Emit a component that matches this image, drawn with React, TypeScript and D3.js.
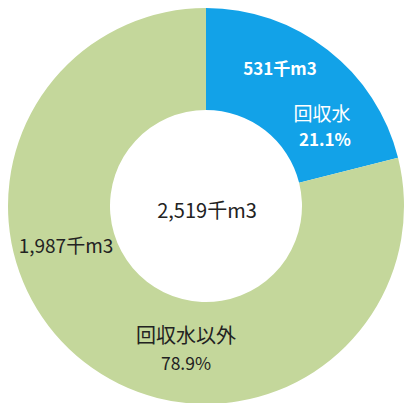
import { useEffect, useRef } from "react"
import * as d3 from "d3"

const categories = ["回収水", "回収水以外"]
const values = [531, 1987]
const volumeLabels = ["531千m3", "1,987千m3"]
const percentLabels = ["21.1%", "78.9%"]
const totalLabel = "2,519千m3"
const colors = ["#12a2e8", "#c4d79b"]

export default function App() {
  const svgRef = useRef<SVGSVGElement>(null)

  useEffect(() => {
    if (!svgRef.current) return
    const width = 404
    const height = 403
    const cx = 206
    const cy = 206
    const outerR = 198
    const innerR = 96
    const font = "'Noto Sans CJK JP', 'Noto Sans', sans-serif"

    const svg = d3.select(svgRef.current)
    svg.selectAll("*").remove()
    svg.attr("width", width).attr("height", height)

    const g = svg.append("g").attr("transform", `translate(${cx},${cy})`)

    const pie = d3.pie<number>().sort(null).value((d) => d)
    const arc = d3.arc<d3.PieArcDatum<number>>().innerRadius(innerR).outerRadius(outerR)
    const arcs = pie(values)

    g.selectAll("path")
      .data(arcs)
      .enter()
      .append("path")
      .attr("d", arc)
      .attr("fill", (_, i) => colors[i])

    const label = (x: number, y: number, text: string, size: number, fill: string, bold = false) =>
      g.append("text")
        .attr("x", x)
        .attr("y", y)
        .attr("text-anchor", "middle")
        .attr("font-family", font)
        .attr("font-weight", bold ? "bold" : "normal")
        .attr("font-size", size)
        .attr("fill", fill)
        .text(text)

    // blue slice labels
    label(74, -131, volumeLabels[0], 17, "#fff", true)
    label(116, -85, categories[0], 19, "#fff")
    label(119, -60, percentLabels[0], 17, "#fff", true)

    // green slice labels
    label(-140, 47, volumeLabels[1], 19, "#222")
    label(-20, 137, categories[1], 20, "#222")
    label(-20, 164, percentLabels[1], 17.5, "#222")

    // total in centre
    label(1, 12, totalLabel, 20, "#222")
  }, [])

  return (
    <svg
      ref={svgRef}
      style={{ position: "absolute", left: 0, top: 0, background: "#fff" }}
    />
  )
}
